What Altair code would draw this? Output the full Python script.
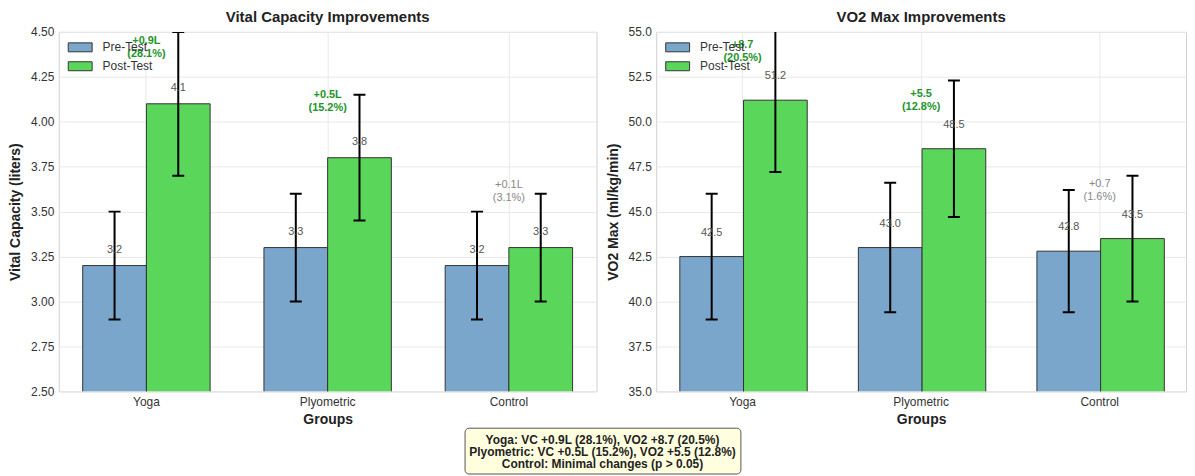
import altair as alt
import pandas as pd

groups = ["Yoga", "Plyometric", "Control"]
tests = ["Pre-Test", "Post-Test"]

vc_pre = [3.2, 3.3, 3.2]
vc_post = [4.1, 3.8, 3.3]
vc_pre_err = [0.3, 0.3, 0.3]
vc_post_err = [0.4, 0.35, 0.3]

vo2_pre = [42.5, 43.0, 42.8]
vo2_post = [51.2, 48.5, 43.5]
vo2_pre_err = [3.5, 3.6, 3.4]
vo2_post_err = [4.0, 3.8, 3.5]

significant = [True, True, False]

vc_ticks = [2.5, 2.75, 3.0, 3.25, 3.5, 3.75, 4.0, 4.25, 4.5]
vo2_ticks = [35.0, 37.5, 40.0, 42.5, 45.0, 47.5, 50.0, 52.5, 55.0]

summary_lines = [
    "Yoga: VC +0.9L (28.1%), VO2 +8.7 (20.5%)",
    "Plyometric: VC +0.5L (15.2%), VO2 +5.5 (12.8%)",
    "Control: Minimal changes (p > 0.05)",
]

PRE_COLOR = "#7BA6CC"
POST_COLOR = "#5AD65A"
FONT = "Liberation Sans"


def bar_df(pre, post, pre_err, post_err):
    rows = []
    for i, g in enumerate(groups):
        rows.append(dict(Group=g, Test="Pre-Test", value=pre[i],
                         lo=pre[i] - pre_err[i], hi=pre[i] + pre_err[i]))
        rows.append(dict(Group=g, Test="Post-Test", value=post[i],
                         lo=post[i] - post_err[i], hi=post[i] + post_err[i]))
    return pd.DataFrame(rows)


def ann_df(pre, post, unit):
    rows = []
    for i, g in enumerate(groups):
        d = post[i] - pre[i]
        pct = d / pre[i] * 100
        rows.append(dict(Group=g, value=post[i], sig=significant[i],
                         txt=f"+{d:.1f}{unit}\n({pct:.1f}%)"))
    return pd.DataFrame(rows)


def panel(df, adf, title, ytitle, domain, ticks, fmt, label_dy, ann_dy, width, with_box=False):
    x = alt.X("Group:N", sort=groups, title="Groups",
              scale=alt.Scale(paddingInner=0.297, paddingOuter=0.132),
              axis=alt.Axis(labelAngle=0, bandPosition=0.5, labelPadding=5, titlePadding=5))
    xo = alt.XOffset("Test:N", sort=tests, scale=alt.Scale(paddingInner=0, paddingOuter=0))

    def yenc(field):
        return alt.Y(f"{field}:Q", title=ytitle,
                     scale=alt.Scale(domain=domain, zero=False, nice=False),
                     axis=alt.Axis(values=ticks, format=fmt, labelPadding=5, titlePadding=8))

    color = alt.Color("Test:N", sort=tests,
                      scale=alt.Scale(domain=tests, range=[PRE_COLOR, POST_COLOR]),
                      legend=alt.Legend(title=None, orient="none", legendX=15, legendY=9))

    base = alt.Chart(df)
    bars = base.mark_bar(stroke="#333333", strokeWidth=1, clip=True).encode(
        x=x, xOffset=xo, y=yenc("value"), color=color)
    err = base.mark_rule(color="black", strokeWidth=2, clip=True).encode(
        x=x, xOffset=xo, y=yenc("lo"), y2="hi:Q")
    cap_lo = base.mark_tick(color="black", thickness=2, size=12, clip=True, opacity=1).encode(
        x=x, xOffset=xo, y=yenc("lo"))
    cap_hi = base.mark_tick(color="black", thickness=2, size=12, clip=True, opacity=1).encode(
        x=x, xOffset=xo, y=yenc("hi"))
    labels = base.mark_text(fontSize=11, color="#555555", baseline="middle", dy=label_dy).encode(
        x=x, xOffset=xo, y=yenc("value"), text=alt.Text("value:Q", format=".1f"))

    abase = alt.Chart(adf)
    ann_sig = abase.transform_filter("datum.sig").mark_text(
        fontSize=11, fontWeight="bold", color="#22952A", lineBreak="\n", lineHeight=13,
        baseline="middle", dy=ann_dy).encode(x=x, y=yenc("value"), text="txt:N")
    ann_ns = abase.transform_filter("!datum.sig").mark_text(
        fontSize=11, color="#888888", lineBreak="\n", lineHeight=13,
        baseline="middle", dy=ann_dy).encode(x=x, y=yenc("value"), text="txt:N")

    layers = [bars, err, cap_lo, cap_hi, labels, ann_sig, ann_ns]

    if with_box:
        bdf = pd.DataFrame({"txt": ["\n".join(summary_lines)]})
        box = alt.Chart(bdf).mark_rect(fill="#FFFFE0", stroke="#555555", strokeWidth=1,
                                       cornerRadius=4).encode(
            x=alt.value(408), x2=alt.value(685), y=alt.value(398), y2=alt.value(444))
        btxt = alt.Chart(bdf).mark_text(fontSize=12, fontWeight="bold", color="#222222",
                                        lineBreak="\n", lineHeight=12, baseline="middle",
                                        align="center").encode(
            x=alt.value(546), y=alt.value(410), text="txt:N")
        layers += [box, btxt]

    return alt.layer(*layers).properties(
        width=width, height=361,
        title=alt.TitleParams(title, frame="group"))


left = panel(bar_df(vc_pre, vc_post, vc_pre_err, vc_post_err), ann_df(vc_pre, vc_post, "L"),
             "Vital Capacity Improvements", "Vital Capacity (liters)", [2.5, 4.5],
             vc_ticks, ".2f", -16, -63, 540, with_box=True)
right = panel(bar_df(vo2_pre, vo2_post, vo2_pre_err, vo2_post_err), ann_df(vo2_pre, vo2_post, ""),
              "VO2 Max Improvements", "VO2 Max (ml/kg/min)", [35, 55],
              vo2_ticks, ".1f", -24, -55, 532)

chart = alt.hconcat(left, right, spacing=60, bounds="flush").resolve_scale(
    color="independent").resolve_legend(color="independent").properties(padding=0).configure(
    font=FONT
).configure_view(stroke="#d0d0d0", strokeWidth=1).configure_axis(
    grid=True, gridColor="#e8e8e8", gridWidth=1, domain=False, ticks=False,
    labelFontSize=12, labelColor="#333333", labelFont=FONT,
    titleFontSize=14, titleFontWeight="bold", titleColor="#222222", titleFont=FONT
).configure_title(
    fontSize=15, fontWeight="bold", color="#222222", offset=1, font=FONT
).configure_legend(
    labelFontSize=12, labelColor="#333333", labelFont=FONT, padding=0,
    symbolType="M-2,-0.75H2V0.75H-2Z", symbolSize=144, symbolStrokeColor="#333333",
    symbolStrokeWidth=1, symbolOpacity=1, labelOffset=16, rowPadding=6
)

chart.save("out.html", embed_options={"renderer": "svg", "actions": False})
